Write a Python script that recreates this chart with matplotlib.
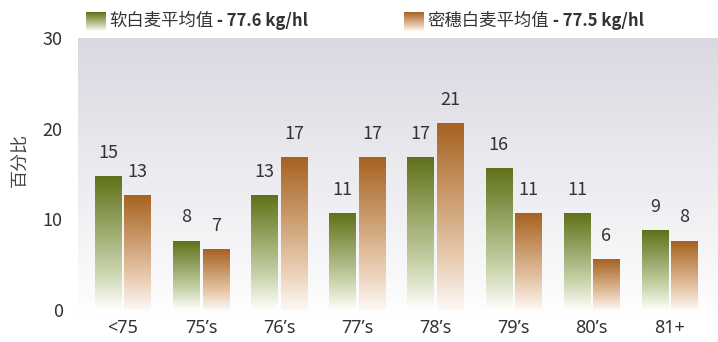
import numpy as np
import matplotlib
matplotlib.use("Agg")
import matplotlib.pyplot as plt
from matplotlib.colors import LinearSegmentedColormap

plt.rcParams['font.family'] = ['Noto Sans CJK SC', 'DejaVu Sans']

categories = ["<75", "75’s", "76’s", "77’s", "78’s", "79’s", "80’s", "81+"]
soft_white = [14.7, 7.6, 12.6, 10.6, 16.8, 15.6, 10.6, 8.8]
club_white = [12.6, 6.7, 16.8, 16.8, 20.6, 10.6, 5.6, 7.6]
series_names = ["软白麦平均值", "密穗白麦平均值"]
series_notes = [" - 77.6 kg/hl", " - 77.5 kg/hl"]
y_ticks = [0, 10, 20, 30]
y_label = "百分比"

TEXT = "#333333"
green_cmap = LinearSegmentedColormap.from_list(
    "green", [(0.0, "#FEFFFC"), (0.3, "#C8D3AA"), (1.0, "#5F7118")])
orange_cmap = LinearSegmentedColormap.from_list(
    "orange", [(0.0, "#FDF8F5"), (0.3, "#E7C8AB"), (1.0, "#A6621F")])
bg_cmap = LinearSegmentedColormap.from_list(
    "bg", [(0.0, "#FFFFFF"), (0.08, "#FBFBFC"), (1.0, "#DAD9E2")])

fig = plt.figure(figsize=(7.18, 3.42), dpi=100)
ax = fig.add_axes([78 / 718, 26 / 342, 640 / 718, 278 / 342])

x = np.arange(len(categories))

# background wash
grad = np.linspace(0, 1, 256).reshape(-1, 1)
ax.imshow(grad, cmap=bg_cmap, origin="lower", aspect="auto",
          extent=[0, 1, 0, 1], transform=ax.transAxes, zorder=0)

width = 0.34
offset = 0.188


def gradient_bars(xpos, values, cmap):
    bars = ax.bar(xpos, values, width=width, facecolor="none",
                  edgecolor="none", zorder=2)
    for b, v in zip(bars, values):
        x0 = b.get_x()
        ax.imshow(grad, cmap=cmap, origin="lower", aspect="auto",
                  extent=[x0, x0 + b.get_width(), 0, v], zorder=2)
        ax.annotate(f"{v:.0f}", (b.get_x() + b.get_width() / 2, v),
                    xytext=(0, 17), textcoords="offset points",
                    ha="center", va="center", fontsize=13, color=TEXT)
    return bars


gradient_bars(x - offset, soft_white, green_cmap)
gradient_bars(x + offset, club_white, orange_cmap)

ax.set_xlim(-0.576, 7.618)
ax.set_ylim(-0.66, 30)
ax.set_xticks(x)
ax.set_xticklabels(categories, family=["Noto Sans", "DejaVu Sans"],
                   fontsize=12.5)
ax.set_yticks(y_ticks)
ax.tick_params(axis="both", length=0, labelsize=13, labelcolor=TEXT)
ax.tick_params(axis="y", pad=11)
ax.tick_params(axis="x", pad=2)
for s in ax.spines.values():
    s.set_visible(False)

fig.text(20 / 718, 1 - 160 / 342, y_label, rotation=90, ha="center",
         va="center", fontsize=13, color="#444444")

# legend with gradient swatches
renderer = fig.canvas.get_renderer()
swatches = [(86, green_cmap), (404, orange_cmap)]
for (px, cmap), name, note in zip(swatches, series_names, series_notes):
    sax = fig.add_axes([px / 718, 1 - 31 / 342, 20 / 718, 19 / 342])
    sax.imshow(grad, cmap=cmap, origin="lower", aspect="auto",
               extent=[0, 1, 0, 1])
    sax.set_axis_off()
    t = fig.text((px + 23) / 718, 1 - 21 / 342, name, ha="left",
                 va="center", fontsize=12.5, color=TEXT)
    bb = t.get_window_extent(renderer=renderer)
    fig.text(bb.x1 / 718, 1 - 21 / 342, note, ha="left", va="center",
             fontsize=12, fontweight="bold", color=TEXT)

fig.savefig("out.png", dpi=100)
